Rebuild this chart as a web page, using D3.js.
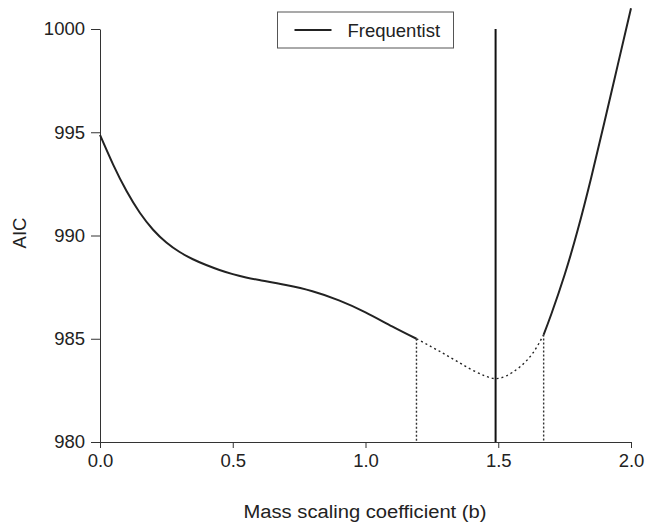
<!DOCTYPE html>
<html>
<head>
<meta charset="UTF-8">
<script src="https://cdn.jsdelivr.net/npm/d3@7"></script>
<style>
  body { margin: 0; background: #fff; }
  text { font-family: "Liberation Sans", Arial, sans-serif; fill: #222; }
</style>
</head>
<body>
<svg width="645" height="524"></svg>
<script>
// solid part left of the interval
const bLeft = [0, 0.05, 0.1, 0.15, 0.2, 0.25, 0.3, 0.35, 0.4, 0.45, 0.5, 0.55, 0.6, 0.7, 0.8, 0.9, 1.0, 1.1, 1.192];
const aicLeft = [994.87, 993.42, 992.15, 991.1, 990.28, 989.66, 989.2, 988.85, 988.57, 988.33, 988.13, 987.97, 987.84, 987.6, 987.3, 986.86, 986.28, 985.6, 985.0];
// dotted part inside the interval
const bMid = [1.192, 1.25, 1.3, 1.35, 1.4, 1.45, 1.49, 1.53, 1.58, 1.63, 1.671];
const aicMid = [985.0, 984.6, 984.24, 983.87, 983.5, 983.2, 983.07, 983.2, 983.62, 984.3, 985.2];
// solid part right of the interval
const bRight = [1.671, 1.7, 1.75, 1.8, 1.85, 1.9, 1.95, 2.0];
const aicRight = [985.2, 986.2, 988.1, 990.3, 992.8, 995.5, 998.25, 1001.0];

const bFreq = 1.49;        // frequentist estimate
const bounds = [1.192, 1.671];
const xTicks = [0, 0.5, 1, 1.5, 2];
const yTicks = [980, 985, 990, 995, 1000];
const legendLabel = "Frequentist";

const svg = d3.select("svg");
const margin = {top: 29, right: 14, bottom: 82, left: 100};
const width = 645 - margin.left - margin.right;
const height = 524 - margin.top - margin.bottom;

const g = svg.append("g").attr("transform", "translate(" + margin.left + "," + margin.top + ")");

const x = d3.scaleLinear().domain([0, 2]).range([0, width]);
const y = d3.scaleLinear().domain([980, 1000]).range([height, 0]);

// axes
const xAxis = g.append("g")
  .attr("transform", "translate(0," + height + ")")
  .call(d3.axisBottom(x).tickValues(xTicks).tickFormat(d3.format(".1f")).tickSize(6).tickSizeOuter(0));
xAxis.selectAll("text").attr("y", 12).attr("font-size", "18.5px");

const yAxis = g.append("g")
  .call(d3.axisLeft(y).tickValues(yTicks).tickFormat(d3.format("d")).tickSize(9).tickSizeOuter(0).tickPadding(6));
yAxis.selectAll("text").attr("font-size", "18.5px");

svg.selectAll(".domain, .tick line").attr("stroke", "#333");
svg.selectAll(".tick text").attr("fill", "#222").attr("font-family", "Liberation Sans, Arial, sans-serif");

// curves
const line = d3.line().x(d => x(d[0])).y(d => y(d[1])).curve(d3.curveNatural);

g.append("path").datum(d3.zip(bLeft, aicLeft))
  .attr("d", line).attr("fill", "none").attr("stroke", "#222").attr("stroke-width", 2);
g.append("path").datum(d3.zip(bMid, aicMid))
  .attr("d", line).attr("fill", "none").attr("stroke", "#222").attr("stroke-width", 1.4)
  .attr("stroke-dasharray", "2,3");
g.append("path").datum(d3.zip(bRight, aicRight))
  .attr("d", line).attr("fill", "none").attr("stroke", "#222").attr("stroke-width", 2);

// dotted drop lines at interval bounds
g.selectAll(".drop").data(bounds).enter().append("line")
  .attr("x1", d => x(d)).attr("x2", d => x(d))
  .attr("y1", (d, i) => y(i === 0 ? aicLeft[aicLeft.length - 1] : aicRight[0]))
  .attr("y2", y(980))
  .attr("stroke", "#333").attr("stroke-width", 1.4).attr("stroke-dasharray", "2,2");

// frequentist estimate
g.append("line")
  .attr("x1", x(bFreq)).attr("x2", x(bFreq))
  .attr("y1", y(1000)).attr("y2", y(980))
  .attr("stroke", "#111").attr("stroke-width", 2);

// legend
const lg = svg.append("g").attr("transform", "translate(277.5,12)");
lg.append("rect").attr("width", 176).attr("height", 36)
  .attr("fill", "#fff").attr("stroke", "#555").attr("stroke-width", 1);
lg.append("line").attr("x1", 17).attr("x2", 54).attr("y1", 18).attr("y2", 18)
  .attr("stroke", "#222").attr("stroke-width", 2);
lg.append("text").attr("x", 70).attr("y", 24.5).attr("font-size", "18.5px").text(legendLabel);

// axis titles
svg.append("text")
  .attr("x", 365).attr("y", 518)
  .attr("text-anchor", "middle").attr("font-size", "18px")
  .attr("textLength", 243).attr("lengthAdjust", "spacingAndGlyphs")
  .text("Mass scaling coefficient (b)");
svg.append("text")
  .attr("transform", "translate(26,233) rotate(-90)")
  .attr("text-anchor", "middle").attr("font-size", "18.5px")
  .text("AIC");
</script>
</body>
</html>
